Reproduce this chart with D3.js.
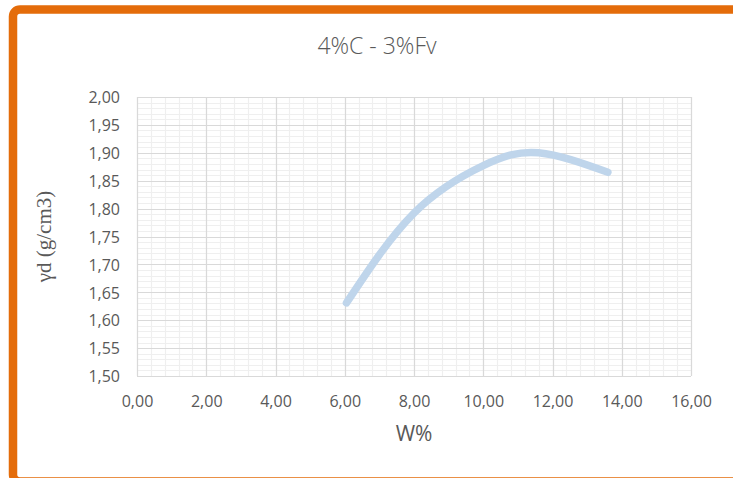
<!DOCTYPE html>
<html>
<head>
<meta charset="utf-8">
<script src="https://cdn.jsdelivr.net/npm/d3@7"></script>
<style>
html,body{margin:0;padding:0;background:#fff;}
svg{display:block;}
</style>
</head>
<body>
<svg id="chart" width="733" height="478"></svg>
<script>
// ---- data ----
const title = "4%C - 3%Fv";
const xTitle = "W%";
const yTitle = "γd (g/cm3)";
const wValues = [6.05, 8.0, 10.0, 11.6, 13.6];
const gammaValues = [1.631, 1.792, 1.877, 1.900, 1.865];
const xTicks = [0, 2, 4, 6, 8, 10, 12, 14, 16];
const yTicks = [1.50, 1.55, 1.60, 1.65, 1.70, 1.75, 1.80, 1.85, 1.90, 1.95, 2.00];

const svg = d3.select("#chart");
const m = {left: 137, right: 691, top: 97, bottom: 376};

// border
svg.append("rect")
  .attr("x", 13).attr("y", 9.5)
  .attr("width", 740).attr("height", 472)
  .attr("rx", 7).attr("ry", 7)
  .attr("fill", "#fff")
  .attr("stroke", "#E46C0A").attr("stroke-width", 8.5);

const x = d3.scaleLinear().domain([0, 16]).range([m.left, m.right]);
const y = d3.scaleLinear().domain([1.5, 2.0]).range([m.bottom, m.top]);

const fmt = v => d3.format(".2f")(v).replace(".", ",");

// minor grid
const g = svg.append("g");
const xMinor = d3.range(0, 16.0001, 0.4);
const yMinor = d3.range(1.5, 2.0001, 0.01);
g.selectAll(".xm").data(xMinor).enter().append("line")
  .attr("x1", d => Math.round(x(d)) + 0.5).attr("x2", d => Math.round(x(d)) + 0.5)
  .attr("y1", m.top).attr("y2", m.bottom)
  .attr("stroke", "#efefef").attr("stroke-width", 1.2);
g.selectAll(".ym").data(yMinor).enter().append("line")
  .attr("y1", d => Math.round(y(d)) + 0.5).attr("y2", d => Math.round(y(d)) + 0.5)
  .attr("x1", m.left).attr("x2", m.right)
  .attr("stroke", "#efefef").attr("stroke-width", 1.2);
// major grid
g.selectAll(".xM").data(xTicks).enter().append("line")
  .attr("x1", d => Math.round(x(d)) + 0.5).attr("x2", d => Math.round(x(d)) + 0.5)
  .attr("y1", m.top).attr("y2", m.bottom)
  .attr("stroke", "#d9d9d9").attr("stroke-width", 1.2);
g.selectAll(".yM").data(yTicks).enter().append("line")
  .attr("y1", d => Math.round(y(d)) + 0.5).attr("y2", d => Math.round(y(d)) + 0.5)
  .attr("x1", m.left).attr("x2", m.right)
  .attr("stroke", "#d9d9d9").attr("stroke-width", 1.2);

// axes labels
const tickFont = "'Open Sans', 'Noto Sans', sans-serif";
const xAxis = d3.axisBottom(x).tickValues(xTicks).tickFormat(fmt).tickSize(0).tickPadding(0);
const xa = svg.append("g").attr("transform", `translate(0,${m.bottom})`).call(xAxis);
xa.select(".domain").remove();
xa.selectAll("text").attr("font-family", tickFont).attr("font-size", 16)
  .attr("fill", "#595959").attr("dy", null).attr("y", 31);

const yAxis = d3.axisLeft(y).tickValues(yTicks).tickFormat(fmt).tickSize(0).tickPadding(0);
const ya = svg.append("g").attr("transform", `translate(${m.left - 17},0)`).call(yAxis);
ya.select(".domain").remove();
ya.selectAll("text").attr("font-family", tickFont).attr("font-size", 16)
  .attr("fill", "#595959").attr("dy", "0.36em");

// curve
const pts = wValues.map((w, i) => [w, gammaValues[i]]);
svg.append("path")
  .datum(pts)
  .attr("d", d3.line().x(d => x(d[0])).y(d => y(d[1])).curve(d3.curveNatural))
  .attr("fill", "none")
  .attr("stroke", "#BFD5EB")
  .attr("stroke-width", 7.5)
  .attr("stroke-linecap", "round")
  .attr("stroke-linejoin", "round");

// titles
svg.append("text").attr("x", 377).attr("y", 54).attr("text-anchor", "middle")
  .attr("font-family", tickFont).attr("font-weight", 300).attr("font-size", 23).attr("fill", "#595959")
  .text(title);
svg.append("text").attr("x", 414).attr("y", 441).attr("text-anchor", "middle")
  .attr("font-family", tickFont).attr("font-size", 21).attr("fill", "#595959")
  .text(xTitle);
svg.append("text")
  .attr("transform", `translate(51,${(m.top + m.bottom) / 2}) rotate(-90)`)
  .attr("text-anchor", "middle")
  .attr("font-family", "'Liberation Serif', 'DejaVu Serif', serif").attr("font-size", 21)
  .attr("fill", "#595959")
  .text(yTitle);
</script>
</body>
</html>
